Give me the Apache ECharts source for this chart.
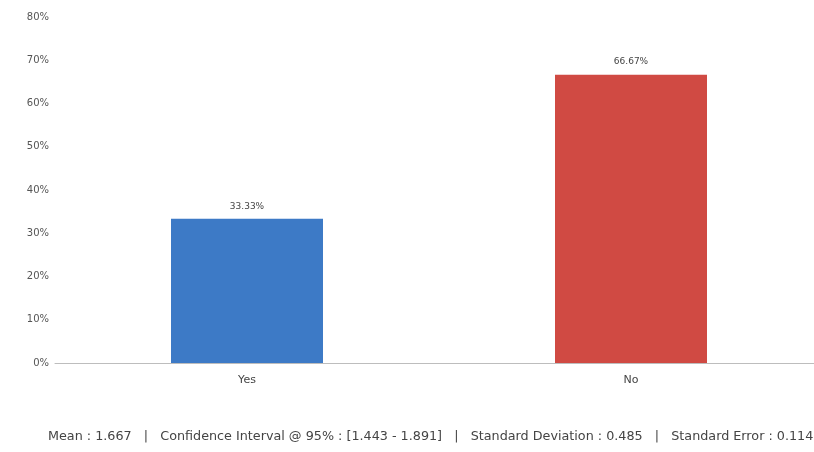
<!DOCTYPE html>
<html><head><meta charset="utf-8">
<script src="https://cdn.jsdelivr.net/npm/echarts@6/dist/echarts.min.js"></script>
<style>html,body{margin:0;padding:0;background:#fff;overflow:hidden}#c{width:823px;height:452px}</style>
</head><body><div id="c"></div>
<script>
const categories = ['Yes', 'No'];
const percentValues = [33.33, 66.67];
const barColors = ['#3d7ac6', '#d04a43'];
const yTicks = [0, 10, 20, 30, 40, 50, 60, 70, 80];
const footerText = 'Mean : 1.667   |   Confidence Interval @ 95% : [1.443 - 1.891]   |   Standard Deviation : 0.485   |   Standard Error : 0.114';

const chart = echarts.init(document.getElementById('c'));
chart.setOption({
  animation: false,
  backgroundColor: '#fff',
  textStyle: { fontFamily: 'DejaVu Sans' },
  grid: { left: 55, top: 17, right: 0, bottom: 89, containLabel: false },
  xAxis: {
    type: 'category', data: categories,
    axisLine: { lineStyle: { color: '#bdbdbd', width: 1 } },
    axisTick: { show: false },
    axisLabel: { color: '#444', fontSize: 11, margin: 12 }
  },
  yAxis: {
    type: 'value', min: 0, max: 80, interval: 10,
    splitLine: { show: false },
    axisLine: { show: false }, axisTick: { show: false },
    axisLabel: { color: '#555', fontSize: 10, margin: 6, formatter: v => v + '%' }
  },
  series: [{
    type: 'bar', barWidth: 152,
    data: percentValues.map((v, i) => ({ value: v, itemStyle: { color: barColors[i] } })),
    label: { show: true, position: 'top', distance: 8, color: '#444', fontSize: 9, formatter: p => p.value.toFixed(2) + '%' }
  }],
  graphic: [{
    type: 'text', left: 48, top: 430,
    style: { text: footerText, fill: '#444', fontSize: 12.75, fontFamily: 'DejaVu Sans' }
  }]
});
</script></body></html>
